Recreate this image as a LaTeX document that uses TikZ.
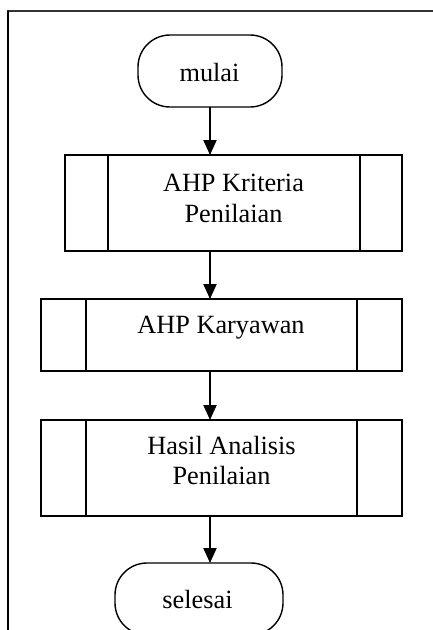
\documentclass[tikz,border=0pt]{standalone}
\usepackage{fontspec}
\setmainfont{Liberation Serif}
\usetikzlibrary{arrows.meta,calc}
\tikzset{
  boxline/.style={draw=black, line width=1.4pt, fill=none, inner sep=0pt, outer sep=0pt},
  terminal/.style={boxline, rounded corners=32pt},
  proc/.style={boxline},
  lbl/.style={anchor=base, inner sep=0pt, font=\fontsize{26.3}{31}\selectfont},
  flow/.style={line width=2pt, -{Triangle[length=15pt,width=13pt]}},
  frameline/.style={line width=1.8pt, black}
}
\begin{document}
\begin{tikzpicture}[x=1pt,y=-1pt]
\clip (0,0) rectangle (433,630);
\fill[white] (0,0) rectangle (433,630);
% frame
\draw[line width=1.3pt, black!80] (7,11) -- (433,11);
\draw[frameline] (8,10.5) -- (8,630);
% terminals
\node[terminal, minimum width=144pt, minimum height=72pt] (start) at (210,71) {};
\node[lbl] (tstart) at (209.5,81) {mulai};
\node[terminal, minimum width=168pt, minimum height=72pt] (stop) at (199,599) {};
\node[lbl] (tstop) at (197.5,608) {selesai};
% process boxes
\node[proc, minimum width=337pt, minimum height=96pt] (b1) at (233.5,203) {};
\draw[line width=1.4pt] ($(b1.north west)+(43,0)$) -- ($(b1.south west)+(43,0)$);
\draw[line width=1.4pt] ($(b1.north east)+(-42,0)$) -- ($(b1.south east)+(-42,0)$);
\node[lbl] (t1a) at (233.5,191) {AHP Kriteria};
\node[lbl] (t1b) at (233.5,222) {Penilaian};
\node[proc, minimum width=361pt, minimum height=72pt] (b2) at (221.5,335) {};
\draw[line width=1.4pt] ($(b2.north west)+(45,0)$) -- ($(b2.south west)+(45,0)$);
\draw[line width=1.4pt] ($(b2.north east)+(-45,0)$) -- ($(b2.south east)+(-45,0)$);
\node[lbl] (t2) at (221,333) {AHP Karyawan};
\node[proc, minimum width=361pt, minimum height=96pt] (b3) at (221.5,468) {};
\draw[line width=1.4pt] ($(b3.north west)+(45,0)$) -- ($(b3.south west)+(45,0)$);
\draw[line width=1.4pt] ($(b3.north east)+(-45,0)$) -- ($(b3.south east)+(-45,0)$);
\node[lbl] (t3a) at (221.5,454) {Hasil Analisis};
\node[lbl] (t3b) at (221.5,484) {Penilaian};
% connectors
\draw[flow] (start.south) -- (start.south |- b1.north);
\draw[flow] (b1.south -| start.south) -- (b2.north -| start.south);
\draw[flow] (b2.south -| start.south) -- (b3.north -| start.south);
\draw[flow] (b3.south -| start.south) -- (stop.north -| start.south);
\end{tikzpicture}
\end{document}
